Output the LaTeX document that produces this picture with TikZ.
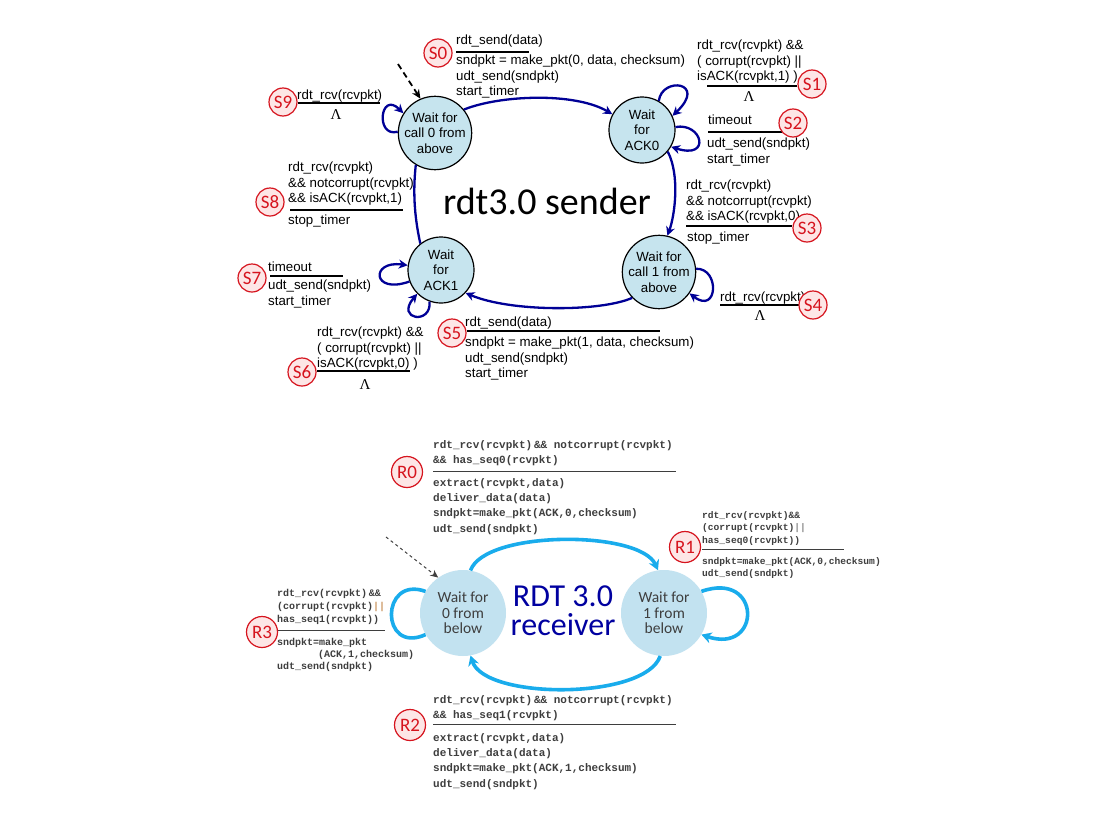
\documentclass[tikz,border=0pt]{standalone}
\usepackage{fontspec}
\setmainfont{Liberation Sans}
\newfontfamily\calfont{Carlito}
\newfontfamily\monofont{Liberation Mono}[BoldFont={Liberation Mono Bold}]
\newfontfamily\greekfont{Liberation Serif}
\usetikzlibrary{arrows.meta}
\definecolor{sblue}{RGB}{0,0,150}
\definecolor{rblue}{RGB}{25,172,236}
\definecolor{sfill}{RGB}{198,228,238}
\definecolor{rfill}{RGB}{194,226,240}
\definecolor{tagred}{RGB}{214,20,30}
\definecolor{tagfill}{RGB}{253,230,230}
\definecolor{titleblue}{RGB}{0,0,160}
\definecolor{monogray}{RGB}{62,62,62}
\tikzset{
  sstate/.style={circle, draw=black, line width=1.2pt, fill=sfill, minimum size=66pt, inner sep=0pt, align=center, font=\fontsize{13.3}{15.5}\selectfont},
  rstate/.style={circle, fill=rfill, minimum size=86pt, inner sep=0pt, align=center, text=monogray, font=\calfont\fontsize{15.5}{15.5}\selectfont},
  tag/.style={circle, draw=tagred, line width=1.2pt, fill=tagfill, minimum size=28pt, inner sep=0pt, text=tagred, font=\calfont\fontsize{19}{19}\selectfont},
  rtag/.style={tag, minimum size=31pt},
  slbl/.style={anchor=north west, inner sep=0pt, align=left, font=\fontsize{13.3}{15.5}\selectfont},
  lam/.style={inner sep=0pt, font=\greekfont\fontsize{15}{15}\selectfont},
  rlbl/.style={anchor=north west, inner sep=0pt, align=left, text=monogray, font=\monofont\bfseries\fontsize{11}{15.3}\selectfont},
  rlbls/.style={anchor=north west, inner sep=0pt, align=left, text=monogray, font=\monofont\bfseries\fontsize{9.6}{12.8}\selectfont},
  rlblm/.style={anchor=north west, inner sep=0pt, align=left, text=monogray, font=\monofont\bfseries\fontsize{10}{13}\selectfont},
  srule/.style={line width=1.8pt},
  rrule/.style={line width=0.9pt, draw=monogray},
  sarr/.style={draw=sblue, line width=2.3pt, -{Stealth[length=9pt,width=9pt]}},
  sline/.style={draw=sblue, line width=2.3pt},
  rarr/.style={draw=rblue, line width=3.6pt, -{Stealth[length=10pt,width=11pt]}},
  rline/.style={draw=rblue, line width=3.6pt},
  initarr/.style={dash pattern=on 6pt off 4pt, line width=1.8pt, -{Stealth[length=9pt,width=8pt]}},
}
\begin{document}
\begin{tikzpicture}[x=1pt,y=1pt]
\useasboundingbox[fill=white] (0,0) rectangle (1116,-814);

% ---------------- sender ----------------
\node[sstate] (call0) at (435,-133) {Wait for\\call 0 from\\above};
\node[sstate] (ack0) at (642,-130) {Wait\\for\\ACK0};
\node[sstate] (ack1) at (441,-270) {Wait\\for\\ACK1};
\node[sstate] (call1) at (659,-272) {Wait for\\call 1 from\\above};

\node[font=\calfont\fontsize{38}{38}\selectfont, inner sep=0pt] (stitle) at (547,-201) {rdt3.0 sender};

\draw[sarr] (call0.39) .. controls (500,-95) and (575,-92) .. (ack0.152);
\draw[sarr] (ack0.-40) .. controls (680,-175) and (675,-215) .. (call1.77);
\draw[sarr] (call1.-136) .. controls (600,-312) and (510,-312) .. (ack1.-43);
\draw[sline] (ack1.128) .. controls (414,-215) and (413,-190) .. (call0.-121);

\draw[sarr] (call0.178) .. controls (375,-138) and (380,-90) .. (call0.148);
\draw[sarr] (ack0.60) .. controls (662,-76) and (708,-82) .. (ack0.25);
\draw[sarr] (ack0.5) .. controls (702,-122) and (712,-160) .. (ack0.-30);
\draw[sarr] (ack1.200) .. controls (372,-295) and (370,-260) .. (ack1.172);
\draw[sarr] (ack1.-110) .. controls (432,-325) and (395,-320) .. (ack1.225);
\draw[sarr] (call1.5) .. controls (720,-268) and (718,-315) .. (call1.-35);

\coordinate (sinit) at (398,-64);
\draw[initarr] (sinit) -- (call0.113);

% S0
\node[tag] (S0) at (438,-53) {S0};
\node[slbl] (s0g) at (456,-35) {rdt\_send(data)};
\draw[srule] (456,-52) -- (529,-52);
\node[slbl] (s0a) at (456,-55) {sndpkt = make\_pkt(0, data, checksum)\\udt\_send(sndpkt)\\start\_timer};
% S1
\node[slbl] (s1g) at (697,-40) {rdt\_rcv(rcvpkt) \&\&\\( corrupt(rcvpkt) ||\\isACK(rcvpkt,1) )};
\draw[srule] (707,-86) -- (797,-86);
\node[lam] (s1l) at (749,-97) {Λ};
\node[tag] (S1) at (812,-84) {S1};
% S2
\node[slbl] (s2g) at (708,-115) {timeout};
\draw[srule] (708,-132) -- (782,-132);
\node[slbl] (s2a) at (707,-138) {udt\_send(sndpkt)\\start\_timer};
\node[tag] (S2) at (793,-123) {S2};
% S3
\node[slbl] (s3g) at (686,-180) {rdt\_rcv(rcvpkt)\\\&\& notcorrupt(rcvpkt)\\\&\& isACK(rcvpkt,0)};
\draw[srule] (686,-226) -- (792,-226);
\node[slbl] (s3a) at (687,-232) {stop\_timer};
\node[tag] (S3) at (807,-228) {S3};
% S4
\node[slbl] (s4g) at (720,-292) {rdt\_rcv(rcvpkt)};
\draw[srule] (720,-305) -- (800,-305);
\node[lam] (s4l) at (760,-316) {Λ};
\node[tag] (S4) at (813,-305) {S4};
% S5
\node[slbl] (s5g) at (465,-317) {rdt\_send(data)};
\draw[srule] (467,-331) -- (660,-331);
\node[slbl] (s5a) at (465,-337) {sndpkt = make\_pkt(1, data, checksum)\\udt\_send(sndpkt)\\start\_timer};
\node[tag] (S5) at (452,-333) {S5};
% S6
\node[slbl] (s6g) at (317,-327) {rdt\_rcv(rcvpkt) \&\&\\( corrupt(rcvpkt) ||\\isACK(rcvpkt,0) )};
\draw[srule] (317,-371) -- (410,-371);
\node[lam] (s6l) at (365,-385) {Λ};
\node[tag] (S6) at (302,-372) {S6};
% S7
\node[slbl] (s7g) at (268,-262) {timeout};
\draw[srule] (270,-276) -- (343,-276);
\node[slbl] (s7a) at (268,-280) {udt\_send(sndpkt)\\start\_timer};
\node[tag] (S7) at (252,-278) {S7};
% S8
\node[slbl] (s8g) at (288,-162) {rdt\_rcv(rcvpkt)\\\&\& notcorrupt(rcvpkt)\\\&\& isACK(rcvpkt,1)};
\draw[srule] (290,-210) -- (403,-210);
\node[slbl] (s8a) at (288,-215) {stop\_timer};
\node[tag] (S8) at (270,-202) {S8};
% S9
\node[slbl] (s9g) at (297,-90) {rdt\_rcv(rcvpkt)};
\draw[srule] (298,-103) -- (380,-103);
\node[lam] (s9l) at (336,-115) {Λ};
\node[tag] (S9) at (283,-102) {S9};

% ---------------- receiver ----------------
\node[rstate] (r0) at (463,-613) {Wait for\\0 from\\below};
\node[rstate] (r1) at (664,-613) {Wait for\\1 from\\below};
\node[align=center, text=titleblue, inner sep=0pt, font=\calfont\fontsize{32}{29}\selectfont] (rtitle) at (563,-611) {RDT 3.0\\receiver};

\draw[rarr] (r0.80) .. controls (485,-530) and (640,-530) .. (r1.98);
\draw[rarr] (r1.-95) .. controls (645,-700) and (485,-700) .. (r0.-80);
\draw[rline] (r0.150) .. controls (380,-575) and (380,-655) .. (r0.210);
\draw[rarr] (r1.30) .. controls (762,-570) and (762,-655) .. (r1.-30);

\coordinate (rinit) at (386,-537);
\draw[dashed, draw=black!75, line width=1pt, -{Stealth[length=8pt,width=7pt]}] (rinit) -- (r0.125);

% R0
\node[rlbl] (r0g) at (433,-440) {rdt\_rcv(rcvpkt)\,\&\& notcorrupt(rcvpkt)\\\&\& has\_seq0(rcvpkt)};
\draw[rrule] (433,-471) -- (676,-471);
\node[rlbl] (r0a) at (433,-478) {extract(rcvpkt,data)\\deliver\_data(data)\\sndpkt=make\_pkt(ACK,0,checksum)\\udt\_send(sndpkt)};
\node[rtag] (R0) at (407,-472) {R0};
% R2
\node[rlbl] (r2g) at (433,-695) {rdt\_rcv(rcvpkt)\,\&\& notcorrupt(rcvpkt)\\\&\& has\_seq1(rcvpkt)};
\draw[rrule] (433,-724) -- (676,-724);
\node[rlbl] (r2a) at (433,-733) {extract(rcvpkt,data)\\deliver\_data(data)\\sndpkt=make\_pkt(ACK,1,checksum)\\udt\_send(sndpkt)};
\node[rtag] (R2) at (410,-725) {R2};
% R1
\node[rlbls] (r1g) at (702,-511) {rdt\_rcv(rcvpkt)\&\&\\(corrupt(rcvpkt){\color{black!45}||}\\has\_seq0(rcvpkt))};
\draw[rrule] (702,-549) -- (844,-549);
\node[rlbls] (r1a) at (702,-557) {sndpkt=make\_pkt(ACK,0,checksum)\\udt\_send(sndpkt)};
\node[rtag] (R1) at (685,-547) {R1};
% R3
\node[rlblm] (r3g) at (277,-589) {rdt\_rcv(rcvpkt)\,\&\&\\(corrupt(rcvpkt){\color{brown!80}||}\\has\_seq1(rcvpkt))};
\draw[rrule] (277,-630) -- (385,-630);
\node[rlblm, font=\monofont\bfseries\fontsize{10}{12}\selectfont] (r3a) at (277,-638) {sndpkt=make\_pkt\\\hspace*{41pt}(ACK,1,checksum)\\udt\_send(sndpkt)};
\node[rtag] (R3) at (262,-632) {R3};
\end{tikzpicture}
\end{document}
